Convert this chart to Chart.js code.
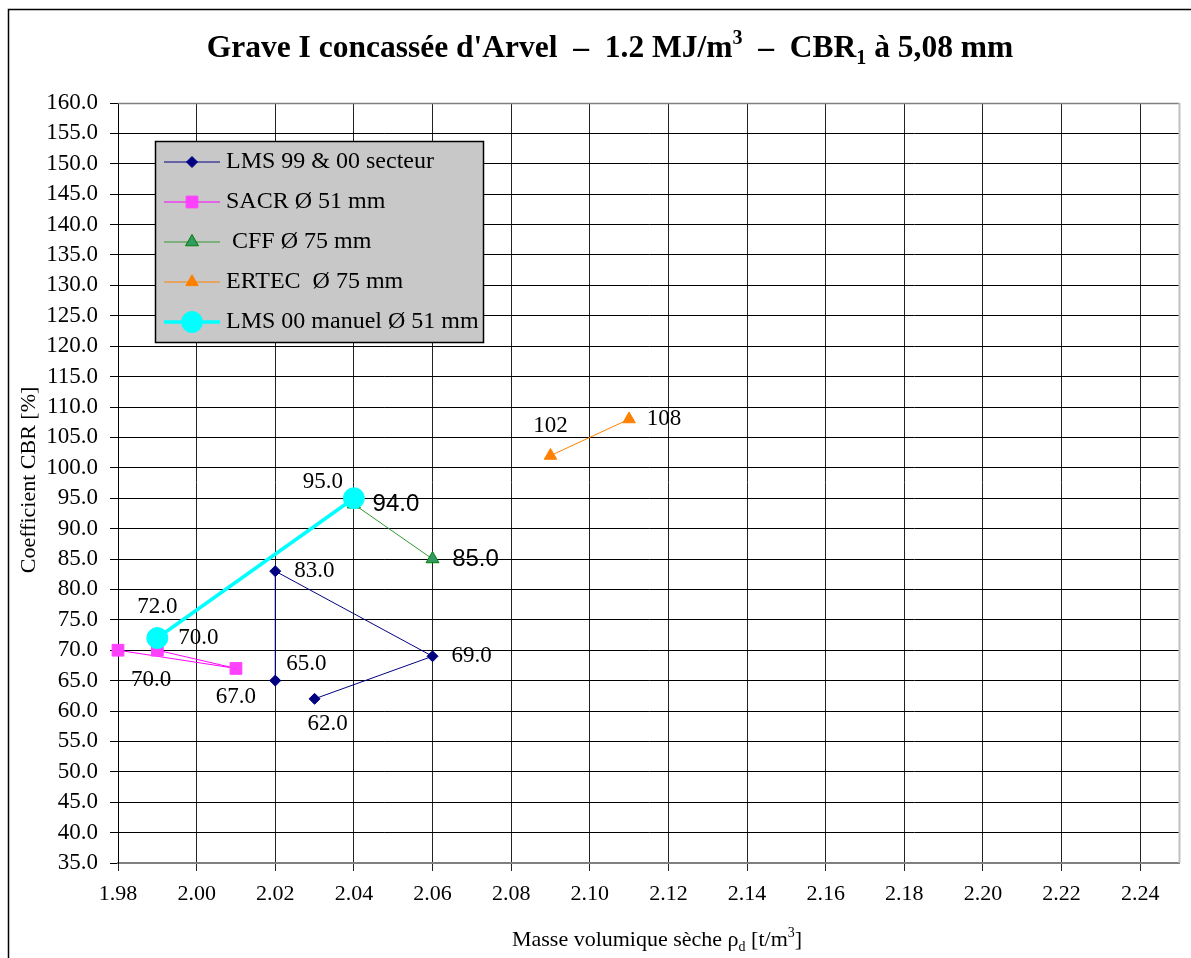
<!DOCTYPE html>
<html>
<head>
<meta charset="utf-8">
<script src="https://cdn.jsdelivr.net/npm/chart.js@4.4.1/dist/chart.umd.min.js"></script>
<style>
  html, body { margin: 0; padding: 0; background: #fff; }
  canvas { display: block; }
</style>
</head>
<body>
<canvas id="c" width="1191" height="958"></canvas>
<script>
// --- donnees ---
var xTicks = [1.98, 2.00, 2.02, 2.04, 2.06, 2.08, 2.10, 2.12, 2.14, 2.16, 2.18, 2.20, 2.22, 2.24];
var yTicks = [35, 40, 45, 50, 55, 60, 65, 70, 75, 80, 85, 90, 95, 100, 105, 110, 115, 120, 125, 130, 135, 140, 145, 150, 155, 160];

var secteurX = [2.02, 2.02, 2.06, 2.03];
var secteurY = [65, 83, 69, 62];

var sacrX = [1.98, 2.01, 1.99];
var sacrY = [70, 67, 70];

var cffX = [2.04, 2.06];
var cffY = [94, 85];

var ertecX = [2.09, 2.11];
var ertecY = [102, 108];

var manuelX = [1.99, 2.04];
var manuelY = [72, 95];

var seriesNames = ['LMS 99 & 00 secteur', 'SACR \u00D8 51 mm', ' CFF \u00D8 75 mm', 'ERTEC  \u00D8 75 mm', 'LMS 00 manuel \u00D8 51 mm'];

// decalage des etiquettes (px, centre du texte par rapport au point)
var labelOffsets = [
  [[31, -17], [39, 0], [39, 0], [13, 25]],
  [[33, 30], [0, 29], [41, -12]],
  [[42, 0], [43, 0]],
  [[0, -30], [35, 0]],
  [[0, -31], [-31, -16]]
];
var labelDigits = [1, 1, 1, 0, 1];
var labelFonts = ['23px "Liberation Serif"', '23px "Liberation Serif"', '24px "Liberation Sans"', '23px "Liberation Serif"', '23px "Liberation Serif"'];

var SERIF = '"Liberation Serif", "Times New Roman", serif';

function pts(xs, ys) {
  return xs.map(function (x, i) { return { x: x, y: ys[i] }; });
}

// texte avec indices / exposants
function drawRich(ctx, parts, x, y, size, weight, align) {
  var small = Math.round(size * 0.62);
  var total = 0;
  parts.forEach(function (p) {
    ctx.font = weight + ' ' + (p.s ? small : size) + 'px ' + SERIF;
    p.w = ctx.measureText(p.t).width;
    total += p.w;
  });
  var cx = align === 'center' ? x - total / 2 : x;
  ctx.textAlign = 'left';
  ctx.textBaseline = 'alphabetic';
  parts.forEach(function (p) {
    ctx.font = weight + ' ' + (p.s ? small : size) + 'px ' + SERIF;
    var dy = p.s === 'sup' ? -size * 0.42 : (p.s === 'sub' ? size * 0.22 : 0);
    ctx.fillText(p.t, cx, y + dy);
    cx += p.w;
  });
}

var decor = {
  id: 'decor',
  afterDraw: function (chart) {
    var ctx = chart.ctx, a = chart.chartArea;
    ctx.save();

    // bord de la zone de trace
    ctx.strokeStyle = '#808080';
    ctx.lineWidth = 1.5;
    ctx.beginPath(); ctx.moveTo(a.left, a.top + 0.5); ctx.lineTo(a.right, a.top + 0.5); ctx.stroke();
    ctx.strokeStyle = '#c0c0c0';
    ctx.lineWidth = 2;
    ctx.beginPath(); ctx.moveTo(a.right, a.top); ctx.lineTo(a.right, a.bottom); ctx.stroke();

    // cadre exterieur
    ctx.strokeStyle = '#000';
    ctx.lineWidth = 1.5;
    ctx.beginPath();
    ctx.moveTo(8.5, 958); ctx.lineTo(8.5, 9.5); ctx.lineTo(1191, 9.5);
    ctx.stroke();

    ctx.fillStyle = '#000';
    // titre
    drawRich(ctx, [
      { t: 'Grave I concass\u00E9e d\'Arvel  \u2013  1.2 MJ/m' }, { t: '3', s: 'sup' },
      { t: '  \u2013  CBR' }, { t: '1', s: 'sub' }, { t: ' \u00E0 5,08 mm' }
    ], 610, 57, 31.5, 'bold', 'center');

    // titre axe x
    drawRich(ctx, [
      { t: 'Masse volumique s\u00E8che \u03C1' }, { t: 'd', s: 'sub' },
      { t: ' [t/m' }, { t: '3', s: 'sup' }, { t: ']' }
    ], 657, 946, 22, 'normal', 'center');

    // titre axe y
    ctx.save();
    ctx.translate(35, 480);
    ctx.rotate(-Math.PI / 2);
    ctx.font = '22px ' + SERIF;
    ctx.textAlign = 'center';
    ctx.textBaseline = 'alphabetic';
    ctx.fillText('Coefficient CBR [%]', 0, 0);
    ctx.restore();

    // etiquettes des points
    chart.data.datasets.forEach(function (ds, i) {
      var meta = chart.getDatasetMeta(i);
      ctx.font = labelFonts[i];
      ctx.textAlign = 'center';
      ctx.textBaseline = 'middle';
      ctx.fillStyle = '#000';
      meta.data.forEach(function (el, j) {
        var off = labelOffsets[i][j];
        ctx.fillText(ds.data[j].y.toFixed(labelDigits[i]), el.x + off[0], el.y + off[1]);
      });
    });

    // legende
    var lx = 155, ly = 141, lw = 328, lh = 201;
    ctx.fillStyle = '#c8c8c8';
    ctx.fillRect(lx, ly, lw, lh);
    ctx.strokeStyle = '#000';
    ctx.lineWidth = 1.5;
    ctx.strokeRect(lx + 0.5, ly + 0.5, lw, lh);
    chart.data.datasets.forEach(function (ds, i) {
      var yy = 162 + i * 40;
      ctx.strokeStyle = ds.borderColor;
      ctx.lineWidth = ds.borderWidth;
      ctx.beginPath(); ctx.moveTo(164, yy); ctx.lineTo(220, yy); ctx.stroke();
      ctx.fillStyle = ds.pointBackgroundColor;
      ctx.strokeStyle = ds.pointBorderColor;
      ctx.lineWidth = ds.pointBorderWidth;
      Chart.helpers.drawPoint(ctx, {
        pointStyle: ds.pointStyle, radius: ds.pointRadius, rotation: 0, borderWidth: ds.pointBorderWidth
      }, 192, yy);
      ctx.fillStyle = '#000';
      ctx.font = '24px ' + SERIF;
      ctx.textAlign = 'left';
      ctx.textBaseline = 'middle';
      ctx.fillText(seriesNames[i], 226, yy);
    });

    ctx.restore();
  }
};

function serie(label, xs, ys, color, lineW, style, radius, fill, border, order) {
  return {
    label: label,
    data: pts(xs, ys),
    showLine: true,
    borderColor: color,
    borderWidth: lineW,
    pointStyle: style,
    pointRadius: radius,
    pointHoverRadius: radius,
    pointBackgroundColor: fill,
    pointBorderColor: border,
    pointBorderWidth: 1,
    clip: false,
    order: order
  };
}

new Chart(document.getElementById('c'), {
  type: 'scatter',
  data: {
    datasets: [
      serie(seriesNames[0], secteurX, secteurY, '#000080', 1, 'rectRot', 5.5, '#000080', '#000080', 4),
      serie(seriesNames[1], sacrX, sacrY, '#ff00ff', 1, 'rect', 8.3, '#ff40ff', '#ff40ff', 3),
      serie(seriesNames[2], cffX, cffY, '#339933', 1, 'triangle', 7.5, '#339966', '#008000', 2),
      serie(seriesNames[3], ertecX, ertecY, '#ff8000', 1, 'triangle', 7.2, '#ff8000', '#ff8000', 1),
      serie(seriesNames[4], manuelX, manuelY, '#00ffff', 3.5, 'circle', 10.5, '#00ffff', '#00ffff', 0)
    ]
  },
  options: {
    responsive: false,
    animation: false,
    layout: { padding: { top: 103, right: 10, left: 0, bottom: 0 } },
    plugins: { legend: { display: false }, tooltip: { enabled: false }, title: { display: false } },
    scales: {
      x: {
        type: 'linear',
        min: 1.98,
        max: 2.25,
        afterBuildTicks: function (s) { s.ticks = xTicks.map(function (v) { return { value: v }; }); },
        afterFit: function (s) { s.height = 95; },
        ticks: {
          callback: function (v) { return v.toFixed(2); },
          font: { family: SERIF, size: 22 },
          color: '#000',
          padding: 10,
          maxRotation: 0,
          autoSkip: false
        },
        grid: { color: '#222', lineWidth: 1, tickLength: 8 },
        border: { color: '#808080', width: 2 }
      },
      y: {
        type: 'linear',
        min: 35,
        max: 160,
        afterBuildTicks: function (s) { s.ticks = yTicks.map(function (v) { return { value: v }; }); },
        afterFit: function (s) { s.width = 118; },
        ticks: {
          callback: function (v) { return v.toFixed(1); },
          font: { family: SERIF, size: 23 },
          color: '#000',
          padding: 12,
          autoSkip: false
        },
        grid: { color: '#000', lineWidth: 1, tickLength: 8 },
        border: { color: '#000', width: 1 }
      }
    }
  },
  plugins: [decor]
});
</script>
</body>
</html>
